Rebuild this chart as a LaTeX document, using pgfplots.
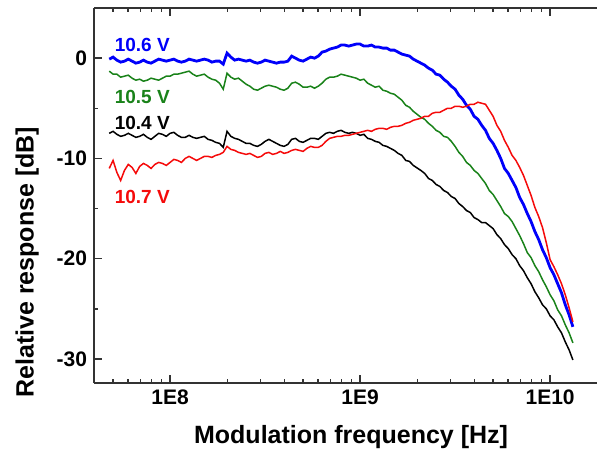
\documentclass[border=0pt]{standalone}
\usepackage{fontspec}
\setmainfont{Liberation Sans}
\usepackage{pgfplots}
\usepackage{pgfplotstable}
\pgfplotsset{compat=1.18}

\definecolor{cblue}{RGB}{0,0,250}
\definecolor{cgreen}{RGB}{25,130,25}
\definecolor{cred}{RGB}{245,10,10}

% f [Hz], b = 10.6 V, g = 10.5 V, k = 10.4 V, r = 10.7 V (dB)
\pgfplotstableread{
f b g k r
4.786e7 -0.1 -1.3 -7.5 -11.0
5.012e7 0.1 -1.6 -7.3 -10.2
5.248e7 -0.2 -1.6 -7.6 -11.4
5.495e7 -0.4 -1.9 -7.8 -12.2
5.754e7 -0.3 -1.8 -7.7 -11.2
6.026e7 -0.1 -1.7 -7.5 -10.6
6.310e7 -0.3 -2.0 -7.7 -10.9
6.607e7 -0.5 -2.2 -7.9 -11.5
6.918e7 -0.4 -2.1 -7.8 -10.8
7.244e7 -0.2 -2.3 -7.6 -10.5
7.586e7 -0.4 -2.2 -7.9 -10.7
7.943e7 -0.5 -2.0 -8.1 -11.0
8.318e7 -0.3 -2.1 -7.8 -10.6
8.710e7 -0.1 -2.2 -7.5 -10.4
9.120e7 -0.2 -2.0 -7.6 -10.5
9.550e7 -0.3 -1.8 -7.8 -10.7
1.000e8 -0.2 -1.8 -7.5 -10.4
1.047e8 -0.1 -1.6 -7.4 -10.1
1.096e8 -0.3 -1.6 -7.7 -10.2
1.148e8 -0.4 -1.5 -7.9 -10.4
1.202e8 -0.3 -1.4 -7.9 -10.0
1.259e8 -0.1 -1.3 -7.7 -9.8
1.318e8 -0.2 -1.6 -7.9 -10.0
1.380e8 -0.3 -1.8 -8.0 -10.2
1.445e8 -0.2 -1.7 -7.9 -10.0
1.514e8 -0.1 -1.6 -7.8 -9.8
1.585e8 -0.2 -1.9 -8.1 -9.8
1.660e8 -0.4 -2.1 -8.2 -9.9
1.738e8 -0.3 -2.2 -8.4 -9.7
1.820e8 -0.3 -2.5 -8.5 -9.6
1.905e8 -0.6 -3.1 -8.9 -9.4
1.995e8 0.5 -1.5 -7.3 -8.8
2.089e8 0.1 -1.9 -7.8 -9.1
2.188e8 -0.2 -2.1 -8.0 -9.2
2.291e8 -0.1 -2.0 -8.1 -9.4
2.399e8 -0.2 -2.3 -8.3 -9.5
2.512e8 -0.3 -2.6 -8.5 -9.6
2.630e8 -0.2 -2.8 -8.5 -9.5
2.754e8 -0.4 -3.1 -8.7 -9.7
2.884e8 -0.5 -3.2 -8.8 -9.9
3.020e8 -0.4 -3.0 -8.6 -9.8
3.162e8 -0.2 -2.8 -8.3 -9.5
3.311e8 -0.3 -2.7 -8.1 -9.4
3.467e8 -0.4 -2.8 -8.3 -9.6
3.631e8 -0.5 -2.9 -8.5 -9.5
3.802e8 -0.4 -3.1 -8.7 -9.3
3.981e8 -0.4 -3.2 -8.8 -9.5
4.169e8 -0.3 -3.0 -8.6 -9.4
4.365e8 0.2 -2.5 -8.1 -9.2
4.571e8 0.0 -2.4 -8.0 -9.1
4.786e8 -0.2 -2.6 -8.3 -9.2
5.012e8 -0.3 -2.9 -8.4 -9.3
5.248e8 -0.1 -2.9 -8.2 -9.0
5.495e8 0.1 -2.8 -8.0 -8.8
5.754e8 0.0 -3.0 -8.0 -8.9
6.026e8 0.2 -2.8 -8.1 -8.9
6.310e8 0.6 -2.5 -7.8 -8.7
6.607e8 0.7 -2.1 -7.5 -8.3
6.918e8 0.9 -1.9 -7.4 -8.0
7.244e8 1.0 -1.9 -7.5 -7.9
7.586e8 1.1 -1.8 -7.3 -7.8
7.943e8 1.3 -1.6 -7.2 -7.8
8.318e8 1.3 -1.7 -7.4 -7.7
8.710e8 1.2 -1.8 -7.5 -7.7
9.120e8 1.3 -1.9 -7.4 -7.6
9.550e8 1.4 -2.0 -7.5 -7.5
1.000e9 1.4 -2.2 -7.7 -7.4
1.047e9 1.2 -2.1 -7.6 -7.3
1.096e9 1.2 -2.5 -8.0 -7.2
1.148e9 1.3 -2.7 -8.1 -7.3
1.202e9 1.1 -2.9 -8.3 -7.1
1.259e9 1.1 -2.8 -8.4 -7.0
1.318e9 1.0 -3.2 -8.7 -7.0
1.380e9 1.0 -3.3 -8.8 -7.1
1.445e9 0.8 -3.5 -9.0 -6.9
1.514e9 0.8 -3.6 -9.2 -6.8
1.585e9 0.6 -3.9 -9.5 -6.8
1.660e9 0.4 -4.2 -9.7 -6.7
1.738e9 0.3 -4.7 -10.2 -6.5
1.820e9 0.2 -4.9 -10.3 -6.4
1.905e9 -0.1 -5.3 -10.7 -6.2
2.089e9 -0.5 -5.9 -11.2 -6.0
2.188e9 -0.7 -6.1 -11.5 -5.8
2.291e9 -1.0 -6.5 -12.0 -5.8
2.399e9 -1.2 -6.8 -12.2 -5.5
2.512e9 -1.6 -7.2 -12.6 -5.4
2.630e9 -1.7 -7.4 -12.8 -5.4
2.754e9 -2.1 -7.8 -13.2 -5.2
2.884e9 -2.4 -7.9 -13.4 -5.0
3.020e9 -2.8 -8.3 -13.8 -5.0
3.162e9 -3.1 -8.8 -14.0 -4.8
3.311e9 -3.7 -9.4 -14.5 -4.8
3.467e9 -4.1 -9.8 -14.8 -4.9
3.631e9 -4.7 -10.4 -15.2 -4.8
3.802e9 -5.1 -10.7 -15.4 -4.6
3.981e9 -5.8 -11.2 -15.9 -4.6
4.169e9 -6.1 -11.5 -16.1 -4.4
4.365e9 -6.7 -12.0 -16.4 -4.5
4.571e9 -7.2 -12.5 -16.4 -4.6
4.786e9 -8.0 -13.2 -16.7 -5.2
5.012e9 -8.5 -13.6 -17.0 -5.8
5.248e9 -9.2 -14.2 -17.6 -6.7
5.495e9 -10.0 -14.8 -18.0 -7.3
5.754e9 -11.0 -15.5 -18.6 -8.2
6.026e9 -11.5 -15.8 -19.0 -8.9
6.310e9 -12.2 -16.3 -19.6 -9.7
6.607e9 -12.9 -17.0 -20.0 -10.2
6.918e9 -13.9 -17.7 -20.7 -10.9
7.244e9 -14.6 -18.5 -21.2 -11.7
7.586e9 -15.5 -19.4 -21.9 -12.7
7.943e9 -16.3 -19.9 -22.5 -13.7
8.318e9 -17.3 -20.7 -23.3 -14.9
8.710e9 -18.1 -21.3 -23.9 -15.8
9.120e9 -19.1 -22.1 -24.6 -16.9
9.550e9 -19.9 -22.8 -25.0 -18.4
1.000e10 -20.9 -23.6 -25.7 -20.1
1.047e10 -21.6 -24.2 -26.1 -20.8
1.096e10 -22.5 -25.1 -26.8 -21.6
1.148e10 -23.4 -25.7 -27.4 -22.5
1.202e10 -24.6 -26.6 -28.3 -23.6
1.259e10 -25.6 -27.4 -29.1 -24.9
1.318e10 -26.8 -28.4 -30.1 -26.3
}\resp

\begin{document}
\begin{tikzpicture}
\begin{axis}[
    scale only axis,
    width=251.5pt,
    height=187.5pt,
    xmode=log,
    xmin=3.98e7, xmax=1.766e10,
    ymin=-32.4, ymax=5,
    axis x line*=box,
    axis y line*=left,
    axis line style={line width=0.8pt, black!80},
    xtick={1e8,1e9,1e10},
    xticklabels={1E8,1E9,1E10},
    minor xtick={5e7,6e7,7e7,8e7,9e7,2e8,3e8,4e8,5e8,6e8,7e8,8e8,9e8,2e9,3e9,4e9,5e9,6e9,7e9,8e9,9e9},
    ytick={-30,-20,-10,0},
    yticklabels={-30,-20,-10,0},
    minor ytick={-25,-15,-5},
    tick align=inside,
    major tick length=4pt,
    minor tick length=2pt,
    every tick/.style={black!80, line width=0.7pt},
    ticklabel style={font=\fontsize{10.5}{12}\selectfont\bfseries},
    xlabel={Modulation frequency [Hz]},
    ylabel={Relative response [dB]},
    label style={font=\fontsize{12.5}{14}\selectfont\bfseries},
    xlabel style={at={(axis description cs:0.511,-0.144)}, anchor=center},
    ylabel style={at={(axis description cs:-0.133,0.322)}, anchor=center},
]
\addplot[cblue, line width=1.4pt] table[x=f, y=b] {\resp};
\addplot[cgreen, line width=0.75pt] table[x=f, y=g] {\resp};
\addplot[black, line width=0.75pt] table[x=f, y=k] {\resp};
\addplot[cred, line width=0.75pt] table[x=f, y=r] {\resp};

\node[anchor=west, text=cblue, font=\fontsize{9.5}{11}\selectfont\bfseries] at (axis cs:4.7e7,1.3) {10.6 V};
\node[anchor=west, text=cgreen, font=\fontsize{9.5}{11}\selectfont\bfseries] at (axis cs:4.7e7,-3.9) {10.5 V};
\node[anchor=west, text=black, font=\fontsize{9.5}{11}\selectfont\bfseries] at (axis cs:4.7e7,-6.5) {10.4 V};
\node[anchor=west, text=cred, font=\fontsize{9.5}{11}\selectfont\bfseries] at (axis cs:4.7e7,-13.8) {10.7 V};
\end{axis}
\pgfresetboundingbox
\useasboundingbox (-47pt,-33.5pt) rectangle (251.5pt,191.5pt);
\end{tikzpicture}
\end{document}
